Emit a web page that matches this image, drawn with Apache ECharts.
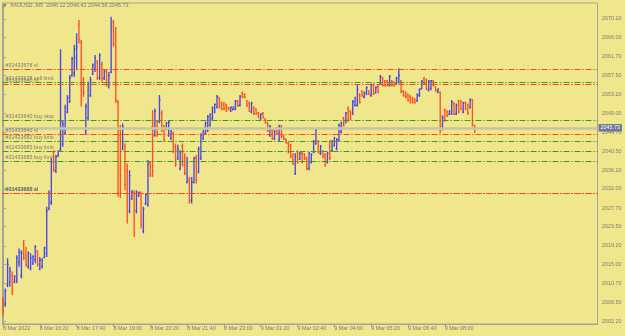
<!DOCTYPE html>
<html>
<head>
<meta charset="utf-8">
<script src="https://cdn.jsdelivr.net/npm/echarts@6/dist/echarts.min.js"></script>
<style>
html,body{margin:0;padding:0;background:#F0E68C;}
#chart{width:625px;height:336px;}
</style>
</head>
<body>
<div id="chart"></div>
<script>
// ---- data (XAUUSD M5, 8 Mar 15:00 .. 9 Mar 09:05) ----
const openVals = [
2007.0,2006.0,2010.5,2011.0,2012.5,2011.0,2011.5,2015.5,2012.5,2019.8,
2017.0,2014.5,2014.0,2015.2,2016.0,2018.0,2014.0,2014.5,2016.6,2017.5,
2027.5,2029.0,2040.3,2036.0,2039.4,2041.0,2042.0,2044.5,2049.3,2051.6,
2057.5,2058.0,2061.5,2069.0,2065.0,2056.5,2045.0,2048.0,2053.0,2057.8,
2059.0,2060.5,2057.0,2060.0,2056.8,2058.3,2055.0,2058.3,2069.5,2066.0,
2051.5,2044.0,2041.0,2041.5,2036.0,2027.0,2029.8,2031.0,2027.0,2030.4,
2031.0,2022.5,2028.6,2028.5,2037.8,2046.0,2044.0,2047.3,2047.0,
2049.0,2046.0,2045.5,2044.0,2043.3,2044.5,2041.5,2038.8,2036.5,2041.5,
2039.0,2033.6,2034.0,2029.3,2033.5,2039.0,2035.8,2039.0,2043.3,2044.5,
2045.0,2046.3,2047.8,2049.3,2050.4,2052.5,2051.4,2051.0,2050.8,2050.3,
2049.5,2049.8,2049.9,2051.8,2050.8,2053.6,2053.3,2051.8,2051.3,2049.3,
2050.3,2049.9,2049.1,2047.7,2049.0,2047.7,2046.9,2044.0,2045.3,2043.3,
2045.7,2043.0,2046.0,2043.9,2043.2,2042.3,2041.8,2039.7,2035.5,2040.3,
2038.7,2040.0,2039.8,2039.0,2036.5,2038.0,2040.3,2042.2,2042.7,
2040.0,2040.5,2039.7,2038.0,2042.5,2040.6,2041.8,2041.0,2043.0,2044.8,
2047.9,2047.0,2050.0,2049.4,2049.0,2050.8,2050.8,2053.2,2054.0,2052.6,
2053.3,2054.0,2053.0,2055.4,2053.6,2055.0,2055.6,2057.0,2056.3,2056.2,
2055.3,2056.3,2056.0,2055.6,2056.0,2056.3,2054.0,2053.7,2053.2,2052.8,
2052.5,2052.2,2051.8,2053.0,2054.5,2056.8,2056.5,2054.2,2054.5,2056.3,
2054.8,2053.7,2053.7,2045.5,2049.8,2049.5,2048.8,2048.9,2051.2,2048.9,
2051.7,2051.8,2049.3,2051.4,2050.9,2050.3,2052.0,2046.12];
const highVals = [
2007.7,2009.6,2016.4,2014.5,2013.4,2012.6,2017.1,2018.6,2018.2,2020.5,
2019.0,2017.9,2017.5,2017.1,2019.4,2018.2,2016.7,2016.4,2019.0,2028.0,
2031.7,2038.9,2040.7,2039.6,2040.7,2063.4,2047.5,2050.9,2053.1,2057.6,
2061.7,2064.4,2067.0,2070.0,2065.5,2057.2,2051.2,2056.1,2057.2,2060.2,
2062.1,2061.0,2062.5,2060.6,2058.7,2058.7,2058.3,2070.7,2070.0,2068.4,
2052.0,2046.4,2046.7,2042.2,2037.7,2036.2,2031.7,2031.7,2031.7,2031.4,
2031.4,2028.0,2031.0,2038.5,2038.1,2049.7,2050.1,2047.5,2053.1,
2049.7,2046.4,2047.1,2047.5,2045.2,2044.9,2042.2,2041.9,2040.7,2042.2,
2040.0,2039.2,2034.7,2034.7,2039.2,2039.6,2041.5,2044.5,2045.2,2047.1,
2048.6,2049.0,2050.5,2051.2,2053.1,2052.7,2051.6,2051.6,2051.2,2050.5,
2050.5,2050.5,2052.0,2052.0,2053.1,2053.9,2053.5,2052.0,2051.6,2051.6,
2050.5,2050.1,2049.3,2049.0,2049.3,2047.9,2047.1,2046.4,2045.6,2045.2,
2046.0,2046.4,2046.4,2044.1,2043.4,2042.6,2042.2,2040.0,2040.0,2040.7,
2040.3,2040.3,2040.0,2039.2,2040.3,2040.0,2043.0,2045.6,2043.0,
2041.9,2040.7,2040.0,2040.3,2043.0,2043.0,2043.7,2043.4,2046.7,2047.1,
2048.2,2049.3,2050.5,2049.7,2052.0,2052.7,2055.4,2053.5,2054.2,2053.9,
2055.0,2054.2,2055.7,2055.7,2055.0,2055.4,2057.6,2057.2,2056.5,2056.5,
2057.6,2056.5,2056.1,2057.2,2059.1,2056.5,2054.2,2053.9,2053.5,2053.1,
2052.7,2052.4,2053.5,2054.6,2056.5,2057.2,2056.8,2056.5,2056.5,2056.5,
2055.0,2054.6,2053.9,2048.6,2050.1,2049.7,2049.7,2052.0,2051.5,2051.2,
2052.0,2052.0,2051.6,2051.6,2051.2,2052.4,2052.2,2046.41];
const lowVals = [
2003.6,2005.5,2009.9,2010.0,2008.1,2010.8,2010.8,2014.5,2011.9,2016.0,
2014.5,2014.1,2013.7,2014.9,2015.3,2014.5,2013.7,2014.1,2016.4,2016.7,
2027.2,2028.4,2035.8,2035.6,2039.2,2040.5,2041.5,2044.1,2049.0,2051.3,
2057.2,2057.2,2058.7,2064.7,2050.5,2052.7,2044.1,2047.5,2052.7,2057.6,
2058.3,2056.5,2056.5,2056.1,2056.5,2055.0,2054.6,2058.0,2064.0,2051.3,
2030.2,2029.9,2040.7,2031.7,2024.2,2026.5,2029.5,2021.2,2026.5,2030.2,
2023.1,2022.0,2028.4,2028.0,2034.7,2034.7,2043.7,2043.7,2046.8,
2044.8,2042.6,2045.2,2043.7,2043.0,2040.0,2037.0,2038.5,2036.2,2037.0,
2035.1,2033.2,2028.7,2028.7,2033.2,2033.2,2035.5,2038.5,2043.0,2044.1,
2044.8,2046.0,2047.5,2049.0,2050.1,2050.1,2049.7,2049.7,2049.3,2049.7,
2049.3,2049.7,2049.7,2050.5,2050.5,2052.4,2052.4,2050.5,2049.3,2049.0,
2048.6,2048.6,2047.9,2047.5,2047.9,2046.7,2044.8,2043.7,2043.0,2043.0,
2044.1,2042.6,2043.4,2043.0,2042.2,2040.0,2038.9,2037.4,2035.1,2037.7,
2038.5,2037.7,2038.5,2036.2,2036.2,2037.7,2040.0,2041.9,2040.0,
2039.6,2038.9,2037.0,2037.7,2038.5,2040.3,2041.5,2040.7,2042.6,2044.5,
2046.0,2046.7,2047.1,2047.5,2048.6,2050.5,2050.5,2051.2,2052.7,2052.4,
2053.1,2053.1,2052.7,2053.1,2053.5,2053.5,2055.4,2055.0,2055.0,2055.0,
2055.0,2055.0,2055.0,2055.4,2055.7,2053.5,2052.7,2052.4,2051.6,2051.2,
2051.2,2051.2,2051.6,2052.7,2054.4,2055.4,2054.2,2053.9,2054.2,2055.0,
2053.9,2053.5,2044.5,2045.2,2047.1,2048.2,2048.6,2048.6,2048.6,2048.6,
2049.0,2049.7,2049.0,2049.7,2048.6,2050.1,2046.0,2044.58];
const closeVals = [
2004.5,2009.0,2015.0,2013.5,2009.0,2012.3,2016.5,2017.8,2017.5,2016.5,
2015.0,2017.5,2016.5,2016.8,2019.0,2015.0,2016.0,2016.0,2018.7,2027.0,
2031.0,2038.0,2036.3,2039.2,2040.5,2047.0,2046.5,2050.3,2052.5,2057.0,
2061.2,2063.5,2064.0,2065.5,2054.0,2053.5,2050.5,2055.5,2056.5,2059.8,
2061.5,2057.0,2062.0,2057.0,2058.5,2055.5,2057.5,2068.5,2064.5,2052.0,
2031.0,2035.0,2046.0,2033.0,2026.0,2035.0,2031.3,2022.0,2031.0,2031.2,
2024.0,2027.5,2030.8,2037.5,2035.0,2036.0,2049.5,2044.5,2052.0,
2045.5,2043.0,2046.8,2047.0,2045.0,2040.5,2037.5,2041.0,2040.3,2037.5,
2035.5,2038.0,2029.5,2033.5,2038.8,2034.0,2041.0,2044.0,2045.0,2046.8,
2048.2,2048.7,2050.2,2051.0,2052.8,2050.5,2050.0,2050.1,2049.6,2049.9,
2050.3,2050.4,2051.7,2050.7,2052.8,2052.6,2052.6,2050.7,2049.6,2051.2,
2048.9,2048.8,2048.1,2048.8,2048.0,2046.9,2045.1,2046.0,2043.3,2044.9,
2044.4,2046.0,2043.7,2043.2,2042.4,2040.3,2039.2,2037.7,2039.3,2038.0,
2040.0,2038.0,2038.7,2036.6,2040.0,2039.7,2042.7,2045.3,2040.3,
2041.5,2039.2,2037.4,2040.0,2039.0,2042.7,2043.4,2043.0,2046.3,2046.8,
2046.3,2049.0,2047.5,2047.8,2051.6,2052.4,2054.5,2051.5,2053.0,2053.7,
2054.8,2053.3,2055.4,2053.4,2054.8,2053.7,2057.3,2055.3,2055.2,2055.3,
2057.3,2055.3,2055.2,2057.0,2057.5,2053.8,2053.0,2052.6,2051.9,2051.5,
2051.4,2051.4,2053.2,2054.4,2056.2,2055.7,2054.5,2056.2,2056.3,2055.2,
2054.1,2054.4,2046.0,2048.0,2047.4,2048.4,2049.5,2051.6,2048.8,2050.8,
2049.3,2050.0,2051.3,2050.0,2049.0,2052.0,2046.5,2045.73];

// x tick labels (bar index -> label)
const xTickIdx = [0,16,32,48,64,80,96,112,128,144,160,176,192];
const xTickLabels = ['8 Mar 2022','8 Mar 16:20','8 Mar 17:40','8 Mar 19:00','8 Mar 20:20','8 Mar 21:40','8 Mar 23:00','9 Mar 01:20','9 Mar 02:40','9 Mar 04:00','9 Mar 05:20','9 Mar 06:40','9 Mar 08:00'];
// y tick labels
const yTicks = [2002.20,2006.50,2010.70,2015.00,2019.20,2023.50,2027.70,2032.00,2036.20,2040.50,2044.70,2049.00,2053.20,2057.50,2061.70,2066.00,2070.20];

// order lines
const lineNames  = ['#31433678 sl','#31433638 sell limit','#31433640 tp','#31433640 buy stop','#31433640 sl','#31433682 buy limit','#31433683 buy limit','#31433685 buy limit','#31433682 sl','#31433683 sl','#31433685 sl'];
const lineLevels = [2058.89,2055.97,2055.52,2047.43,2044.28,2042.71,2040.53,2038.28,2031.02,2031.02,2031.02];
const lineKinds  = ['sl','open','sl','open','sl','open','open','open','sl','sl','sl'];
const header = 'XAUUSD.,M5  2046.12 2046.41 2044.58 2045.73';
const lastPrice = 2045.73;

// ---- chart ----
const BULL = '#3535ee', BEAR = '#ff4016';
const RED = '#f04a1c', GREEN = '#3f9a22';
const FONT = 'Liberation Sans';
const FS = 5.4;
const TXT = '#7c7c74';

const bars = openVals.map((o, i) => [i, o, highVals[i], lowVals[i], closeVals[i]]);

const markData = lineLevels.map((v, k) => ({
  yAxis: v,
  lineStyle: {color: lineKinds[k] === 'sl' ? RED : GREEN, type: [6, 1.8, 1.4, 1.8], width: 1},
  label: {show: true, position: 'insideStartTop', formatter: lineNames[k], color: TXT,
          fontSize: FS, fontFamily: FONT, distance: [3, 1]}
}));
markData.push({
  yAxis: lastPrice,
  lineStyle: {color: '#c9c5a4', type: 'solid', width: 2.5},
  label: {show: true, position: 'end', formatter: lastPrice.toFixed(2), color: '#ffffff',
          backgroundColor: '#6c7a96', padding: [1.5, 2, 1, 2], fontSize: FS, fontFamily: FONT, distance: 1}
});

const chart = echarts.init(document.getElementById('chart'), null, {renderer: 'canvas'});
chart.setOption({
  animation: false,
  backgroundColor: '#F0E68C',
  grid: {left: 2, right: 27.5, top: 3, bottom: 12, show: true, borderColor: '#a3a3a0', borderWidth: 1},
  xAxis: {
    type: 'value', min: -0.217, max: 258.36,
    axisLine: {show: true, lineStyle: {color: '#a3a3a0'}},
    splitLine: {show: false},
    axisTick: {show: true, length: 3, customValues: xTickIdx, lineStyle: {color: '#a3a3a0'}},
    axisLabel: {show: true, customValues: xTickIdx, align: 'left', margin: 2.5,
      fontSize: FS, fontFamily: FONT, color: TXT,
      formatter: v => xTickLabels[xTickIdx.indexOf(Math.round(v))] || ''}
  },
  yAxis: {
    type: 'value', position: 'right', min: 2001.62, max: 2073.8, scale: true,
    axisLine: {show: true, lineStyle: {color: '#a3a3a0'}},
    splitLine: {show: false},
    axisTick: {show: true, length: 3, customValues: yTicks, lineStyle: {color: '#a3a3a0'}},
    axisLabel: {show: true, customValues: yTicks, margin: 4.5, fontSize: FS, fontFamily: FONT, color: TXT,
      formatter: v => v.toFixed(2)}
  },
  series: [
    {
      type: 'line', data: [], z: 1, silent: true,
      markLine: {symbol: 'none', silent: true, animation: false, data: markData}
    },
    {
      type: 'custom', z: 2, clip: true, data: bars,
      encode: {x: 0, y: [1, 2, 3, 4]},
      renderItem: (params, api) => {
        const i = api.value(0);
        const o = api.value(1), h = api.value(2), l = api.value(3), c = api.value(4);
        const pH = api.coord([i, h]), pL = api.coord([i, l]);
        const pO = api.coord([i, o]), pC = api.coord([i, c]);
        const col = c >= o ? BULL : BEAR;
        const x = pH[0];
        const st = {stroke: col, lineWidth: 1.35, opacity: 0.9};
        return {type: 'group', children: [
          {type: 'line', shape: {x1: x, y1: pH[1], x2: x, y2: pL[1]}, style: st},
          {type: 'line', shape: {x1: x - 1, y1: pO[1], x2: x, y2: pO[1]}, style: st},
          {type: 'line', shape: {x1: x, y1: pC[1], x2: x + 1, y2: pC[1]}, style: st}
        ]};
      }
    }
  ],
  graphic: [
    {type: 'text', left: 3, top: 3.5, style: {text: '\u25BC', fontSize: 4.5, fill: TXT, fontFamily: 'DejaVu Sans'}},
    {type: 'text', left: 10, top: 3, style: {text: header, fontSize: FS, fill: TXT, fontFamily: FONT}}
  ]
});
</script>
</body>
</html>
